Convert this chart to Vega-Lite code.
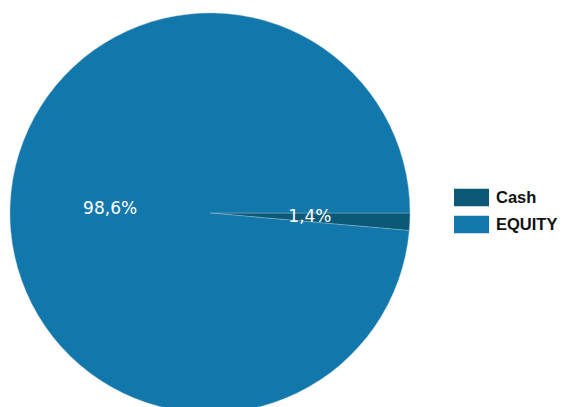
{
  "$schema": "https://vega.github.io/schema/vega-lite/v6.json",
  "width": 420,
  "height": 400,
  "autosize": {"type": "none"},
  "padding": {"left": 0, "top": 13, "right": 143, "bottom": 0},
  "background": "white",
  "config": {
    "view": {"stroke": null},
    "locale": {"number": {"decimal": ",", "thousands": ".", "grouping": [3], "currency": ["", " €"]}}
  },
  "data": {"values": [
    {"asset": "Cash", "share": 0.014},
    {"asset": "EQUITY", "share": 0.986}
  ]},
  "encoding": {
    "theta": {"field": "share", "type": "quantitative", "stack": true, "scale": {"range": [1.5708, 7.854]}},
    "order": {"field": "asset", "sort": "ascending"},
    "color": {
      "field": "asset", "type": "nominal",
      "scale": {"domain": ["Cash", "EQUITY"], "range": ["#0b5877", "#1277aa"]},
      "legend": {
        "title": null, "orient": "none", "legendX": 454, "legendY": 167,
        "symbolType": "M-1,-0.5h2v1h-2z", "symbolSize": 1225, "symbolStrokeWidth": 0,
        "symbolOpacity": 1,
        "labelFont": "Liberation Sans", "labelFontSize": 16.5, "labelFontWeight": "bold",
        "labelColor": "#111111", "labelOffset": 7, "rowPadding": -9
      }
    }
  },
  "layer": [
    {"mark": {"type": "arc", "outerRadius": 200, "stroke": "#9fc3d6", "strokeWidth": 0.4}},
    {
      "mark": {"type": "text", "radius": 100, "font": "DejaVu Sans", "fontSize": 17, "fill": "white"},
      "encoding": {
        "text": {"field": "share", "type": "quantitative", "format": ".1%"},
        "color": {"value": "white"}
      }
    }
  ]
}
